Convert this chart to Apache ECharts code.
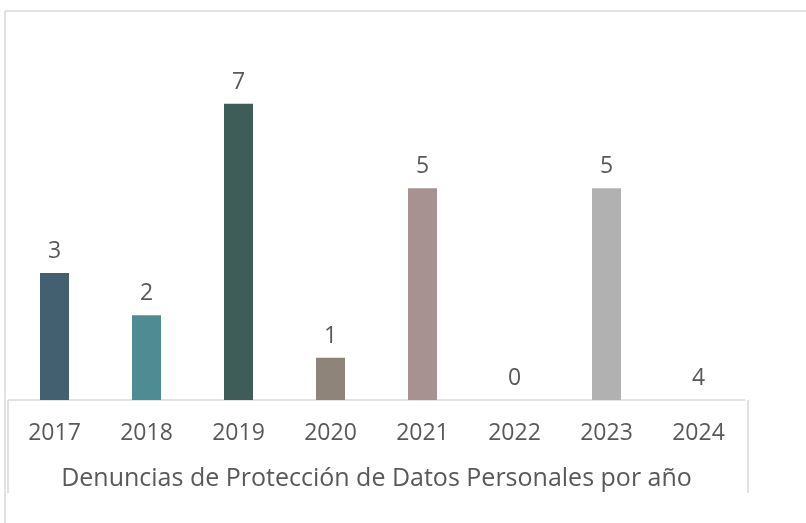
<!DOCTYPE html>
<html>
<head>
<meta charset="utf-8">
<script src="https://cdn.jsdelivr.net/npm/echarts@6/dist/echarts.min.js"></script>
<style>
  html, body { margin: 0; padding: 0; background: #fff; }
  #chart { width: 806px; height: 523px; }
</style>
</head>
<body>
<div id="chart"></div>
<script>
// datos
let years = ["2017", "2018", "2019", "2020", "2021", "2022", "2023", "2024"];
// altura de barra tal como se ve (2024 no tiene barra dibujada)
let barValues = [3, 2, 7, 1, 5, 0, 5, 0];
// etiquetas tal como aparecen sobre cada barra
let barLabels = ["3", "2", "7", "1", "5", "0", "5", "4"];
let barColors = ["#436070", "#4f8b93", "#3e5c58", "#8f8479", "#a89191", "#ffffff", "#b1b1b1", "#ffffff"];
let axisTitle = "Denuncias de Protección de Datos Personales por año";

let chart = echarts.init(document.getElementById("chart"));
let font = "Open Sans";
let textColor = "#595959";
let frameColor = "#d9d9d9";

let option = {
  animation: false,
  textStyle: { fontFamily: font },
  grid: {
    left: 8.5,
    right: 61.5,
    top: 61.3,
    bottom: 123
  },
  xAxis: {
    type: "category",
    data: years,
    axisLine: { show: true, lineStyle: { color: frameColor, width: 1.5 } },
    axisTick: { show: false },
    axisLabel: { color: textColor, fontSize: 23, fontFamily: font, margin: 22 },
    name: axisTitle,
    nameLocation: "middle",
    nameGap: 66,
    nameTextStyle: { color: textColor, fontSize: 25, fontFamily: font }
  },
  yAxis: {
    type: "value",
    min: 0,
    max: 8,
    show: false
  },
  graphic: [
    // marco exterior
    { type: "line", shape: { x1: 5, y1: 11, x2: 806, y2: 11 }, style: { stroke: frameColor, lineWidth: 1.5 } },
    { type: "line", shape: { x1: 5, y1: 11, x2: 5, y2: 523 }, style: { stroke: frameColor, lineWidth: 1.5 } },
    // caja del eje
    { type: "line", shape: { x1: 8, y1: 400, x2: 8, y2: 493 }, style: { stroke: frameColor, lineWidth: 1.5 } },
    { type: "line", shape: { x1: 748, y1: 400, x2: 748, y2: 493 }, style: { stroke: frameColor, lineWidth: 1.5 } }
  ],
  series: [{
    type: "bar",
    barWidth: 29,
    data: barValues.map((v, i) => ({
      value: v,
      itemStyle: { color: barColors[i] }
    })),
    label: {
      show: true,
      position: "top",
      distance: 10,
      color: textColor,
      fontSize: 23,
      fontFamily: font,
      formatter: p => barLabels[p.dataIndex]
    }
  }]
};
chart.setOption(option, true);
</script>
</body>
</html>
